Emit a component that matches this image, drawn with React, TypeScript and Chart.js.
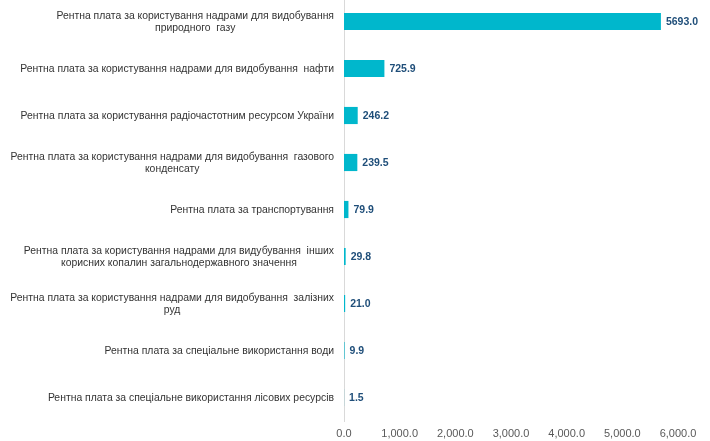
import React, { useEffect, useRef } from "react";
import { Chart, registerables } from "chart.js";

Chart.register(...registerables);

const categories: string[][] = [
  ["Рентна плата за користування надрами для видобування", "природного  газу"],
  ["Рентна плата за користування надрами для видобування  нафти"],
  ["Рентна плата за користування радіочастотним ресурсом України"],
  ["Рентна плата за користування надрами для видобування  газового", "конденсату"],
  ["Рентна плата за транспортування"],
  ["Рентна плата за користування надрами для видубування  інших", "корисних копалин загальнодержавного значення"],
  ["Рентна плата за користування надрами для видобування  залізних", "руд"],
  ["Рентна плата за спеціальне використання води"],
  ["Рентна плата за спеціальне використання лісових ресурсів"],
];
const values: number[] = [5693.0, 725.9, 246.2, 239.5, 79.9, 29.8, 21.0, 9.9, 1.5];
const xTicks: number[] = [0, 1000, 2000, 3000, 4000, 5000, 6000];

const FONT = "Arial, 'Liberation Sans', sans-serif";

const labelsPlugin = {
  id: "customLabels",
  afterDraw(chart: any) {
    const ctx = chart.ctx;
    const y = chart.scales.y;
    const meta = chart.getDatasetMeta(0);
    ctx.save();
    // category labels
    ctx.font = `10.4px ${FONT}`;
    ctx.fillStyle = "#333333";
    ctx.textBaseline = "middle";
    ctx.textAlign = "center";
    const right = 334;
    const lh = 12.5;
    categories.forEach((lines, i) => {
      const cy = y.getPixelForValue(i);
      const w = Math.max(...lines.map((l) => ctx.measureText(l).width));
      const cx = right - w / 2;
      const startY = cy - ((lines.length - 1) * lh) / 2 + 0.5;
      lines.forEach((l, j) => ctx.fillText(l, cx, startY + j * lh));
    });
    // value labels
    ctx.font = `bold 10.5px ${FONT}`;
    ctx.fillStyle = "#1F4E79";
    ctx.textAlign = "left";
    meta.data.forEach((bar: any, i: number) => {
      ctx.fillText(values[i].toFixed(1), bar.x + 5, bar.y + 0.5);
    });
    ctx.restore();
  },
};

export default function App() {
  const ref = useRef<HTMLCanvasElement>(null);
  useEffect(() => {
    if (!ref.current) return;
    const chart = new Chart(ref.current, {
      type: "bar",
      data: {
        labels: categories.map((c) => c.join(" ")),
        datasets: [
          {
            data: values,
            backgroundColor: "#00B7CC",
            borderWidth: 0,
            barPercentage: 0.365,
            categoryPercentage: 1,
          },
        ],
      },
      options: {
        indexAxis: "y",
        animation: false,
        responsive: true,
        maintainAspectRatio: false,
        layout: { padding: { left: 0, right: 32, top: 0, bottom: 0 } },
        plugins: { legend: { display: false }, tooltip: { enabled: false } },
        scales: {
          y: {
            grid: { display: false },
            border: { display: true, color: "#D9D9D9", width: 1 },
            ticks: { display: false },
            afterFit: (s: any) => {
              s.width = 344;
            },
          },
          x: {
            min: 0,
            max: 6000,
            afterBuildTicks: (s: any) => {
              s.ticks = xTicks.map((v) => ({ value: v }));
            },
            grid: { display: false, drawTicks: false },
            border: { display: false },
            ticks: {
              padding: 6,
              color: "#595959",
              font: { family: FONT, size: 11 },
              callback: (v: any) =>
                Number(v).toLocaleString("en-US", { minimumFractionDigits: 1, maximumFractionDigits: 1 }),
            },
            afterFit: (s: any) => {
              s.height = 20;
            },
          },
        },
      },
      plugins: [labelsPlugin],
    });
    return () => chart.destroy();
  }, []);
  return (
    <div style={{ position: "fixed", left: 0, top: -2, width: 710, height: 443, background: "#fff" }}>
      <canvas ref={ref} />
    </div>
  );
}
